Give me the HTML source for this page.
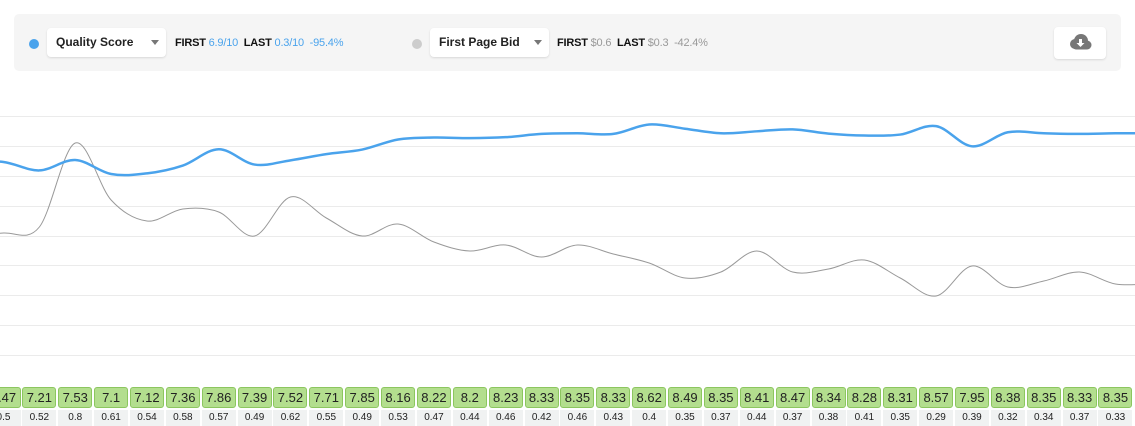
<!DOCTYPE html>
<html><head><meta charset="utf-8"><style>
*{margin:0;padding:0;box-sizing:border-box}
body{width:1135px;height:426px;background:#fff;font-family:"Liberation Sans",sans-serif;position:relative;overflow:hidden}
.panel{position:absolute;left:14px;top:14px;width:1107px;height:57px;background:#f5f5f5;border-radius:5px}
.dot{position:absolute;width:10px;height:10px;border-radius:50%;top:39px}
.dd{position:absolute;top:28px;height:29px;background:#fff;border-radius:4px;box-shadow:0 1px 2px rgba(0,0,0,.12);font-size:12px;font-weight:bold;color:#222;line-height:29px;padding-left:9px}
.dd:after{content:"";position:absolute;right:7px;top:12px;border-left:4px solid transparent;border-right:4px solid transparent;border-top:5px solid #777}
.st{position:absolute;top:37px;font-size:11px;font-weight:bold;color:#111;letter-spacing:-.2px}
.st .b{color:#4aa3ec;font-weight:normal}.st .g{color:#999;font-weight:normal}
.btn{position:absolute;left:1054px;top:27px;width:52px;height:32px;background:#fff;border-radius:4px;box-shadow:0 1px 2px rgba(0,0,0,.12)}
.cell{position:absolute;top:387px;height:21px;width:34px;background:#b3de8e;border:1px solid #8cc65f;border-radius:3px;font-size:13px;color:#222;text-align:center;line-height:19px}
.sub{position:absolute;top:410px;height:16px;width:34px;background:#f0f2f2;font-size:10px;color:#222;text-align:center;line-height:16px}
</style></head><body>
<div class="panel"></div>
<div class="dot" style="left:29px;background:#4aa3ec"></div>
<div class="dd" style="left:47px;width:119px">Quality Score</div>
<div class="st" style="left:175px">FIRST <span class="b">6.9/10</span>&nbsp; LAST <span class="b">0.3/10</span>&nbsp; <span class="b">-95.4%</span></div>
<div class="dot" style="left:412px;background:#ccc"></div>
<div class="dd" style="left:430px;width:119px">First Page Bid</div>
<div class="st" style="left:557px">FIRST <span class="g">$0.6</span>&nbsp; LAST <span class="g">$0.3</span>&nbsp; <span class="g">-42.4%</span></div>
<div class="btn"><svg width="52" height="32"><circle cx="21" cy="17" r="5" fill="#777"/><circle cx="27" cy="14" r="7" fill="#777"/><circle cx="33" cy="18" r="4.5" fill="#777"/><rect x="19" y="16" width="16" height="6.5" rx="3" fill="#777"/><path d="M25 12h3v4h2.5l-4 4-4-4h2.5z" fill="#fff"/></svg></div>
<svg id="ch" style="position:absolute;left:0;top:0" width="1135" height="386"></svg>
<div id="cells"></div>
<script>
var q=[7.47,7.21,7.53,7.1,7.12,7.36,7.86,7.39,7.52,7.71,7.85,8.16,8.22,8.2,8.23,8.33,8.35,8.33,8.62,8.49,8.35,8.41,8.47,8.34,8.28,8.31,8.57,7.95,8.38,8.35,8.33,8.35];
var b=[0.5,0.52,0.8,0.61,0.54,0.58,0.57,0.49,0.62,0.55,0.49,0.53,0.47,0.44,0.46,0.42,0.46,0.43,0.4,0.35,0.37,0.44,0.37,0.38,0.41,0.35,0.29,0.39,0.32,0.34,0.37,0.33];
var P=35.87,X0=3.5;
function xs(i){return X0+i*P}
function path(ys){var pts=ys.map(function(y,i){return[xs(i),y]});
pts.unshift([xs(-1),ys[0]]);pts.push([xs(ys.length),ys[ys.length-1]]);
pts.unshift([xs(-2),ys[0]]);pts.push([xs(ys.length+1),ys[ys.length-1]]);
var d="M"+pts[1][0]+","+pts[1][1];for(var i=1;i<pts.length-2;i++){var p0=pts[i-1],p1=pts[i],p2=pts[i+1],p3=pts[i+2];
d+=" C"+(p1[0]+(p2[0]-p0[0])/6)+","+(p1[1]+(p2[1]-p0[1])/6)+" "+(p2[0]-(p3[0]-p1[0])/6)+","+(p2[1]-(p3[1]-p1[1])/6)+" "+p2[0]+","+p2[1];}return d;}
var s="";[116,146,176,206,236,265,295,325,355].forEach(function(y){s+='<line x1="0" x2="1135" y1="'+(y+.5)+'" y2="'+(y+.5)+'" stroke="#ebebeb" stroke-width="1"/>'});
s+='<path d="'+path(b.map(function(v){return 143+(0.8-v)*300}))+'" fill="none" stroke="#999" stroke-width="1"/>';
s+='<path d="'+path(q.map(function(v){return 160-(v-7.53)*32.6}))+'" fill="none" stroke="#4aa3ec" stroke-width="2.5"/>';
document.getElementById("ch").innerHTML=s;
var c="";q.forEach(function(v,i){var x=xs(i)-17;c+='<div class="cell" style="left:'+x+'px">'+v+'</div><div class="sub" style="left:'+x+'px">'+b[i]+'</div>'});
document.getElementById("cells").innerHTML=c;
</script>
</body></html>
